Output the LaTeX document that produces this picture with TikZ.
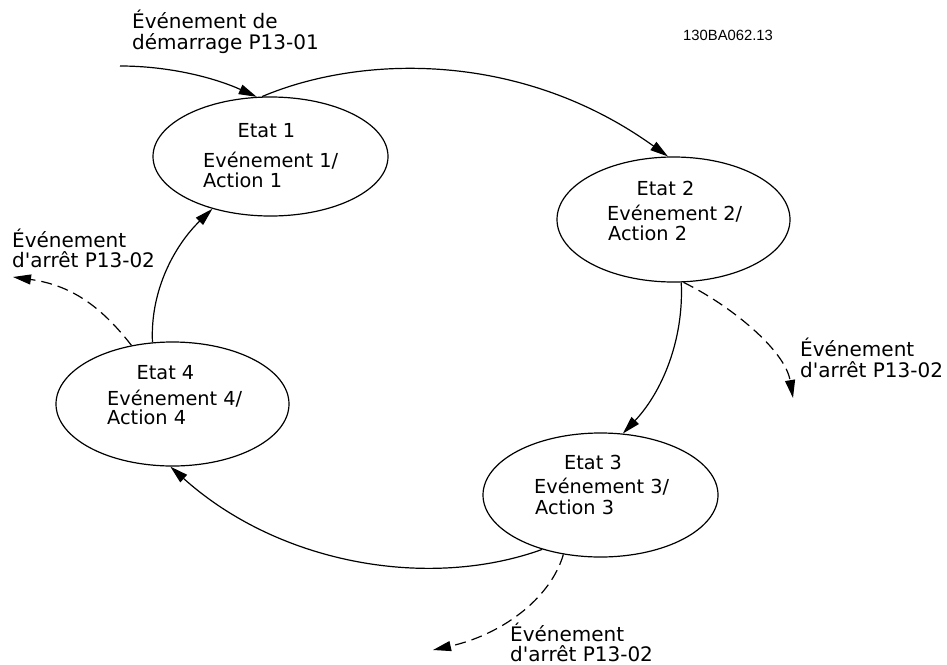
\documentclass[tikz,border=0pt]{standalone}
\usepackage{fontspec}
\setmainfont{DejaVu Sans}
\newfontfamily\codefont{Liberation Sans}
\usetikzlibrary{arrows.meta,shapes.geometric}
\begin{document}
\begin{tikzpicture}[x=1pt,y=-1pt,
  state/.style={draw, ellipse, line width=1.2pt, inner sep=0pt},
  txt/.style={inner sep=0pt, font=\fontsize{19.3}{20}\selectfont},
  lbl/.style={inner sep=0pt, font=\fontsize{20}{21}\selectfont},
  conn/.style={line width=1.2pt, -{Triangle[length=18pt,width=10pt]}},
  dashconn/.style={conn, dash pattern=on 11pt off 6pt}]
\useasboundingbox (0,0) rectangle (947,664);
% states
\node[state, minimum width=235pt, minimum height=119pt] (s1) at (270.5,156.5) {};
\node[state, minimum width=233pt, minimum height=125pt] (s2) at (673.5,219.5) {};
\node[state, minimum width=235pt, minimum height=124pt] (s3) at (600.5,495) {};
\node[state, minimum width=233pt, minimum height=124pt] (s4) at (172.5,404) {};
% state texts
\node[txt, anchor=base] (t1) at (266.5,137) {Etat 1};
\node[txt, anchor=base west] (e1) at (203,167) {Evénement 1/};
\node[txt, anchor=base west] (a1) at (203,187) {Action 1};
\node[txt, anchor=base] (t2) at (665.5,195) {Etat 2};
\node[txt, anchor=base west] (e2) at (607,220) {Evénement 2/};
\node[txt, anchor=base west] (a2) at (608,240) {Action 2};
\node[txt, anchor=base] (t3) at (593,469) {Etat 3};
\node[txt, anchor=base west] (e3) at (534,493) {Evénement 3/};
\node[txt, anchor=base west] (a3) at (535,514) {Action 3};
\node[txt, anchor=base] (t4) at (165.5,379) {Etat 4};
\node[txt, anchor=base west] (e4) at (107,405) {Evénement 4/};
\node[txt, anchor=base west] (a4) at (107,424) {Action 4};
% labels
\node[lbl, anchor=base west] (ls1) at (132,28) {Événement de};
\node[lbl, anchor=base west] (ls2) at (132,49) {démarrage P13-01};
\node[lbl, anchor=base west] (l4a) at (12,247) {Événement};
\node[lbl, anchor=base west] (l4b) at (12,267) {d\textquotesingle arrêt P13-02};
\node[lbl, anchor=base west] (l2a) at (800,356) {Événement};
\node[lbl, anchor=base west] (l2b) at (800,377) {d\textquotesingle arrêt P13-02};
\node[lbl, anchor=base west] (l3a) at (510,641) {Événement};
\node[lbl, anchor=base west] (l3b) at (510,661) {d\textquotesingle arrêt P13-02};
\node[inner sep=0pt, anchor=base west, font=\codefont\fontsize{14.8}{16}\selectfont] (code) at (683,40) {130BA062.13};
% free ends
\coordinate (st) at (120,66);
\coordinate (d2) at (793,398);
\coordinate (d3) at (433,650);
\coordinate (d4) at (13,277);
% connectors
\draw[conn] (st) .. controls (170,66) and (215,78) .. (s1.103);
\draw[conn] (s1.98) .. controls (360,55) and (520,50) .. (s2.95);
\draw[conn] (s2.277) .. controls (684,340) and (662,392) .. (s3.70);
\draw[dashconn] (s2.279) .. controls (730,305) and (785,350) .. (d2);
\draw[conn] (s3.223) .. controls (430,590) and (280,565) .. (s4.268);
\draw[dashconn] (s3.238) .. controls (550,600) and (500,635) .. (d3);
\draw[conn] (s4.108) .. controls (150,290) and (175,245) .. (s1.222);
\draw[dashconn] (s4.125) .. controls (100,305) and (70,285) .. (d4);
\end{tikzpicture}
\end{document}
